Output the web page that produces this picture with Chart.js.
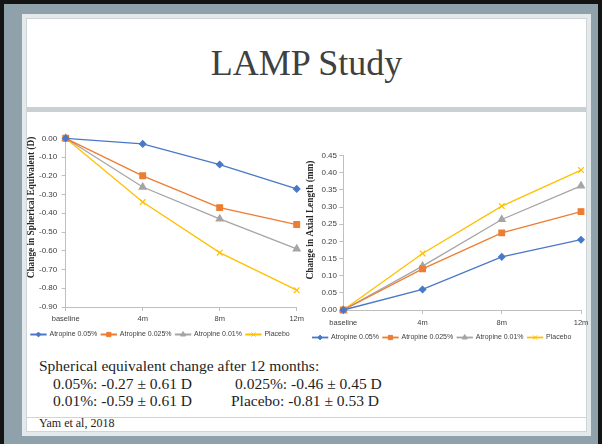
<!DOCTYPE html>
<html>
<head>
<meta charset="utf-8">
<script src="https://cdn.jsdelivr.net/npm/chart.js@4.4.0/dist/chart.umd.min.js"></script>
<style>
html, body { margin: 0; padding: 0; }
body { width: 602px; height: 444px; position: relative; overflow: hidden; background: #8fa2ac; }
#frame { position: absolute; left: 0; top: 0; width: 602px; height: 444px; box-sizing: border-box; border: 4px solid #141414; border-bottom: none; }
#ring { position: absolute; left: 22px; top: 14px; width: 569px; height: 422px; background: #e4e9eb; }
#panel { position: absolute; left: 26px; top: 18px; width: 561px; height: 414px; box-sizing: border-box; background: #fff; border: 1px solid #cfd4d6; }
#title { position: absolute; left: 26px; top: 45px; width: 561px; text-align: center; font: 36px "Liberation Serif", serif; line-height: 36px; color: #404040; }
#band { position: absolute; left: 27px; top: 107px; width: 559px; height: 5px; background: #c8d0d4; }
.txt { position: absolute; font: 15.5px "Liberation Serif", serif; line-height: 17.5px; color: #1e1e1e; white-space: nowrap; }
#footline { position: absolute; left: 27px; top: 417px; width: 559px; height: 1px; background: #cfd4d6; }
#cite { position: absolute; left: 39px; top: 417px; font: 12px "Liberation Serif", serif; line-height: 12px; color: #1e1e1e; }
#c1 { position: absolute; left: 24px; top: 126px; }
#c2 { position: absolute; left: 303px; top: 143px; }
</style>
</head>
<body>
<div id="frame"></div>
<div id="ring"></div>
<div id="panel"></div>
<div id="title">LAMP Study</div>
<div id="band"></div>
<canvas id="c1" width="284" height="222"></canvas>
<canvas id="c2" width="292" height="208"></canvas>
<div class="txt" style="left:39px;top:357px">Spherical equivalent change after 12 months:</div>
<div class="txt" style="left:53px;top:375px">0.05%: -0.27 ± 0.61 D</div>
<div class="txt" style="left:235px;top:375px">0.025%: -0.46 ± 0.45 D</div>
<div class="txt" style="left:53px;top:392px">0.01%: -0.59 ± 0.61 D</div>
<div class="txt" style="left:231px;top:392px">Placebo: -0.81 ± 0.53 D</div>
<div id="footline"></div>
<div id="cite">Yam et al, 2018</div>
<script>
var categories = ['baseline', '4m', '8m', '12m'];
var seriesNames = ['Atropine 0.05%', 'Atropine 0.025%', 'Atropine 0.01%', 'Placebo'];

// change in spherical equivalent (D)
var seAtropine005 = [0, -0.03, -0.14, -0.27];
var seAtropine0025 = [0, -0.20, -0.37, -0.46];
var seAtropine001 = [0, -0.26, -0.43, -0.59];
var sePlacebo = [0, -0.34, -0.61, -0.81];
var seTicks = [0.00, -0.10, -0.20, -0.30, -0.40, -0.50, -0.60, -0.70, -0.80, -0.90];

// change in axial length (mm)
var alAtropine005 = [0, 0.06, 0.155, 0.205];
var alAtropine0025 = [0, 0.12, 0.225, 0.287];
var alAtropine001 = [0, 0.128, 0.264, 0.362];
var alPlacebo = [0, 0.165, 0.303, 0.408];
var alTicks = [0.00, 0.05, 0.10, 0.15, 0.20, 0.25, 0.30, 0.35, 0.40, 0.45];

var colors = ['#4a78c8', '#ED7D31', '#A5A5A5', '#FFC000'];
var markers = ['rectRot', 'rect', 'triangle', 'crossRot'];
var markerSize = [3.2, 4, 4, 4];

// excel style legend: a short line with the marker on it
var legendMarkers = {
    id: 'legendMarkers',
    afterDraw: function(chart){
        var legend = chart.legend;
        if (!legend || !legend.legendHitBoxes || !Chart.helpers) return;
        var ctx = chart.ctx;
        var bw = legend.options.labels.boxWidth;
        var fs = legend.options.labels.font.size;
        legend.legendHitBoxes.forEach(function(box, i){
            ctx.save();
            ctx.fillStyle = colors[i];
            ctx.strokeStyle = colors[i];
            ctx.lineWidth = 1;
            Chart.helpers.drawPoint(ctx, {pointStyle: markers[i], radius: markerSize[i] * 0.75, borderWidth: 1, rotation: 0},
                box.left + bw / 2, box.top + fs / 2);
            ctx.restore();
        });
    }
};

var makeChart = function(id, series, ticks, title, opt){
    var datasets = [];
    for (var i = 0; i < series.length; i++){
        datasets.push({
            label: seriesNames[i],
            data: series[i],
            borderColor: colors[i],
            backgroundColor: colors[i],
            borderWidth: 1.3,
            pointStyle: markers[i],
            pointRadius: markerSize[i],
            pointBackgroundColor: colors[i],
            pointBorderColor: colors[i],
            pointBorderWidth: 1.2,
            tension: 0,
            clip: false
        });
    }
    var ctx = document.getElementById(id).getContext('2d');
    return new Chart(ctx, {
        type: 'line',
        data: {labels: categories, datasets: datasets},
        plugins: [legendMarkers],
        options: {
            responsive: false,
            animation: false,
            layout: {padding: {top: opt.padTop, right: opt.padRight, left: 0, bottom: 0}},
            plugins: {
                tooltip: {enabled: false},
                legend: {
                    position: 'bottom',
                    labels: {
                        boxWidth: 15,
                        boxHeight: 0.5,
                        padding: 4,
                        color: '#404040',
                        font: {family: 'Liberation Sans', size: 7}
                    }
                }
            },
            scales: {
                x: {
                    offset: false,
                    grid: {display: true, drawOnChartArea: false, drawTicks: true, tickLength: 4, color: '#bfbfbf'},
                    border: {display: true, color: '#bfbfbf'},
                    ticks: {color: '#404040', padding: opt.xPad, maxRotation: 0, font: {family: 'Liberation Sans', size: 7.5}},
                    afterFit: function(scale){ scale.height = 20; }
                },
                y: {
                    min: opt.min,
                    max: opt.max,
                    grid: {display: true, drawOnChartArea: false, drawTicks: true, tickLength: 4, color: '#bfbfbf'},
                    border: {display: true, color: '#bfbfbf'},
                    afterBuildTicks: function(scale){
                        scale.ticks = ticks.map(function(v){ return {value: v}; });
                    },
                    ticks: {
                        color: '#404040', padding: opt.yPad,
                        font: {family: 'Liberation Sans', size: 8},
                        callback: function(v){ return Number(v).toFixed(2); }
                    },
                    title: {
                        display: true,
                        text: title,
                        color: '#262626',
                        padding: {top: 2.4, bottom: 0},
                        font: {family: 'Liberation Serif', size: 9.3, weight: 'bold'}
                    },
                    afterFit: function(scale){ scale.width = opt.yWidth; }
                }
            }
        }
    });
};

makeChart('c1', [seAtropine005, seAtropine0025, seAtropine001, sePlacebo], seTicks,
    '\u00a0\u00a0\u00a0\u00a0\u00a0\u00a0\u00a0\u00a0\u00a0\u00a0\u00a0\u00a0\u00a0Change in Spherical Equivalent (D)',
    {padTop: 12.3, padRight: 11.3, xPad: 3.5, yPad: 4.5, yWidth: 41.7, min: -0.9, max: 0});
makeChart('c2', [alAtropine005, alAtropine0025, alAtropine001, alPlacebo], alTicks,
    '\u00a0\u00a0\u00a0\u00a0\u00a0\u00a0\u00a0\u00a0\u00a0\u00a0\u00a0Change in Axial Length (mm)',
    {padTop: 12.7, padRight: 14, xPad: 4, yPad: 2.3, yWidth: 40.3, min: 0, max: 0.45});
</script>
</body>
</html>
